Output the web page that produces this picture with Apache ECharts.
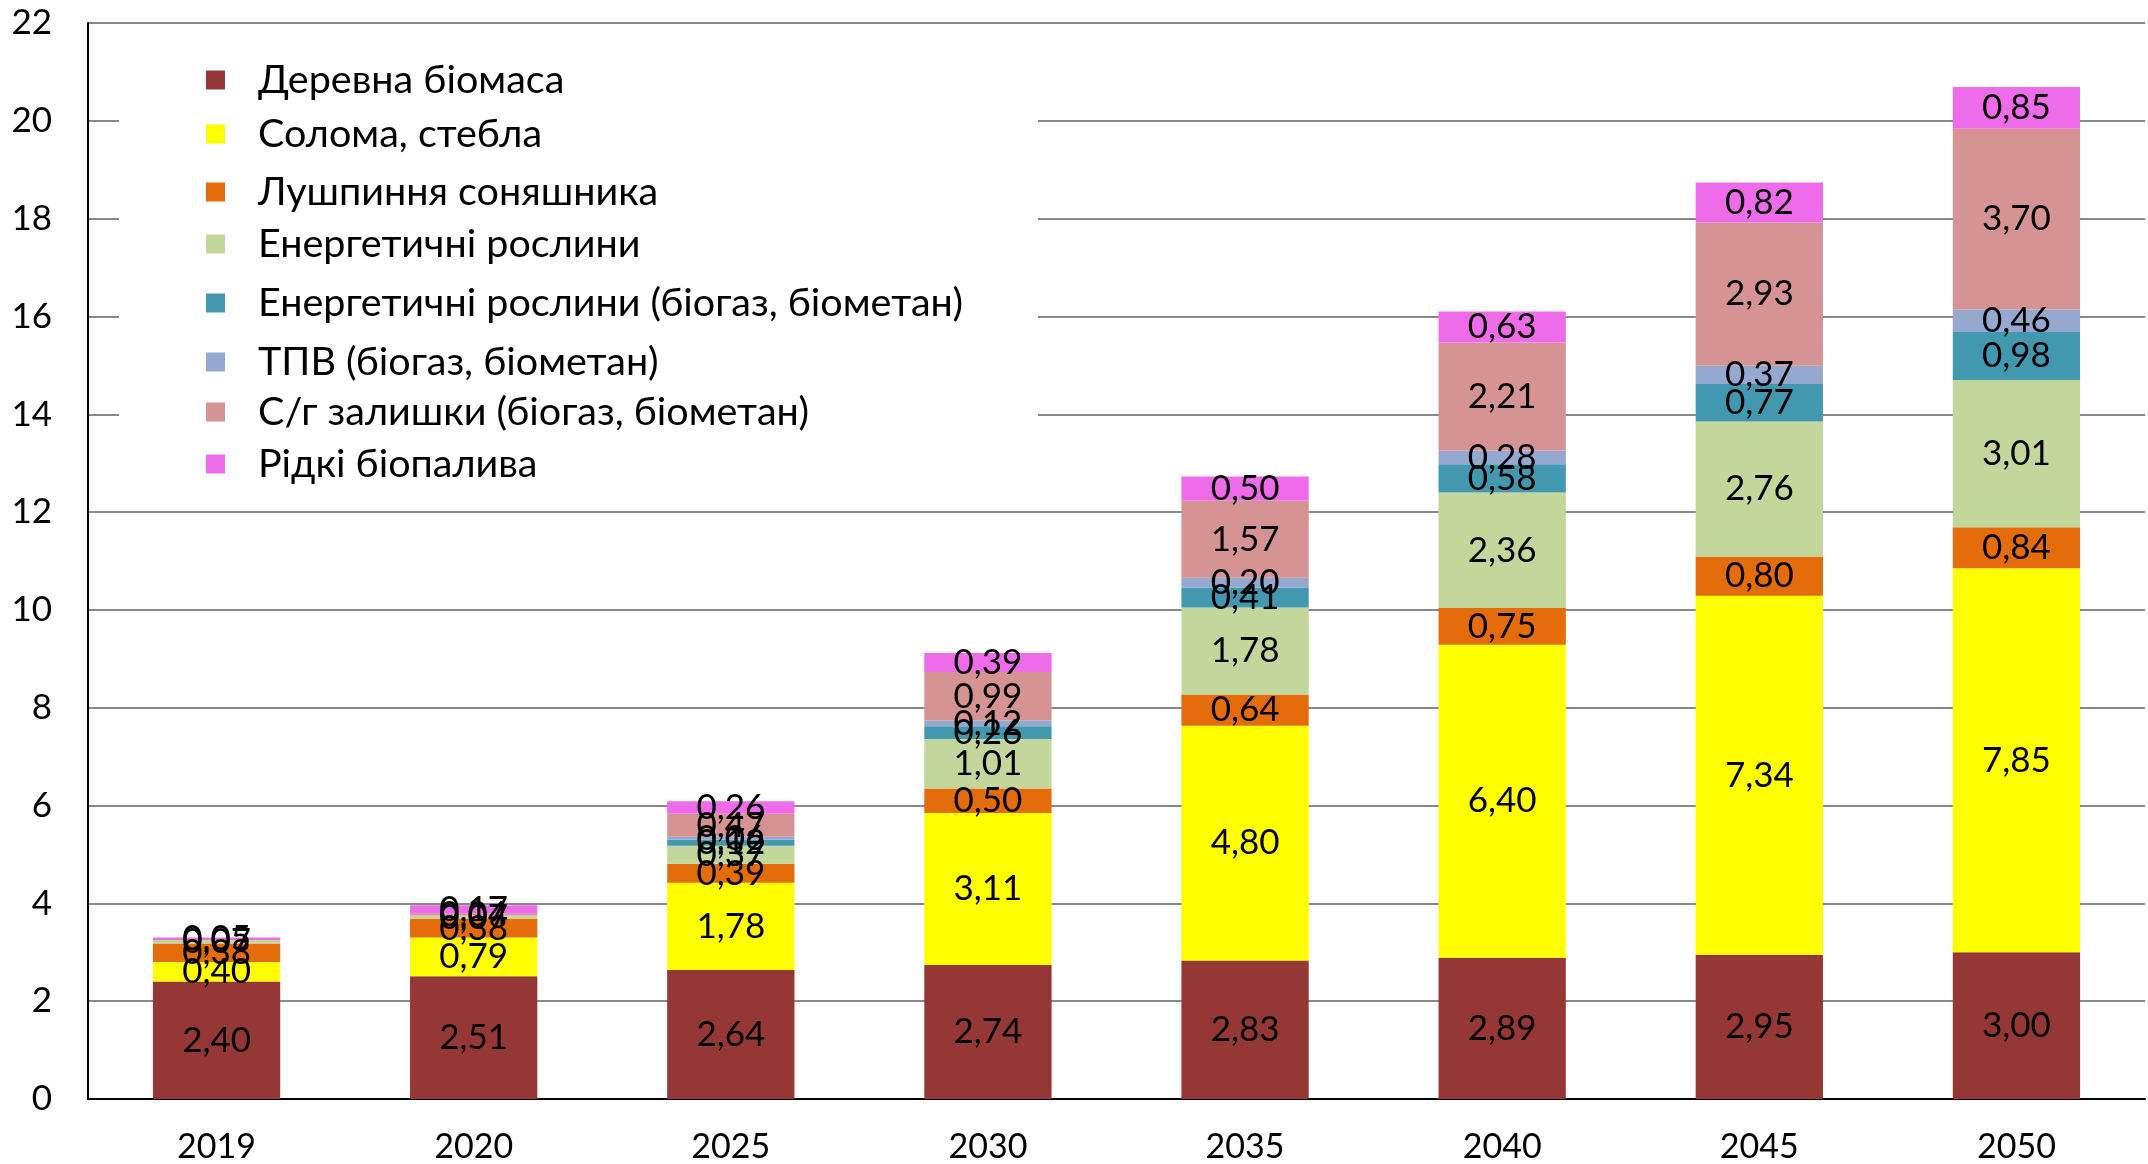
<!DOCTYPE html>
<html>
<head>
<meta charset="utf-8">
<script src="https://cdn.jsdelivr.net/npm/echarts@6/dist/echarts.min.js"></script>
<style>
  html, body { margin: 0; padding: 0; background: #fff; }
  #chart { width: 2148px; height: 1164px; }
</style>
</head>
<body>
<div id="chart"></div>
<script>
// Biomass energy potential by source, stacked per year
const years = ['2019', '2020', '2025', '2030', '2035', '2040', '2045', '2050'];
const seriesNames = [
  'Деревна біомаса',
  'Солома, стебла',
  'Лушпиння соняшника',
  'Енергетичні рослини',
  'Енергетичні рослини (біогаз, біометан)',
  'ТПВ (біогаз, біометан)',
  'С/г залишки (біогаз, біометан)',
  'Рідкі біопалива'
];
const woodBiomass       = [2.40, 2.51, 2.64, 2.74, 2.83, 2.89, 2.95, 3.00];
const straw             = [0.40, 0.79, 1.78, 3.11, 4.80, 6.40, 7.34, 7.85];
const sunflowerHusk     = [0.38, 0.38, 0.39, 0.50, 0.64, 0.75, 0.80, 0.84];
const energyCrops       = [0.07, 0.07, 0.37, 1.01, 1.78, 2.36, 2.76, 3.01];
const energyCropsBiogas = [0.00, 0.00, 0.12, 0.26, 0.41, 0.58, 0.77, 0.98];
const mswBiogas         = [0.00, 0.00, 0.06, 0.12, 0.20, 0.28, 0.37, 0.46];
const agriResidues      = [0.00, 0.04, 0.47, 0.99, 1.57, 2.21, 2.93, 3.70];
const liquidBiofuels    = [0.05, 0.17, 0.26, 0.39, 0.50, 0.63, 0.82, 0.85];
const yMin = 0, yMax = 22, yStep = 2;

const seriesValues = [woodBiomass, straw, sunflowerHusk, energyCrops,
  energyCropsBiogas, mswBiogas, agriResidues, liquidBiofuels];
const colors = ['#953735', '#FFFF00', '#E46C0A', '#C3D69B',
  '#4198AF', '#95A9D0', '#D59393', '#EE6CE9'];
// vertical centre of each legend row
const legendRows = [78, 132, 190, 242, 301, 360, 410, 462];

const FONT = 'Lato, "Noto Sans", sans-serif';

const chart = echarts.init(document.getElementById('chart'), null, { renderer: 'canvas' });

const fmt = v => v === 0 ? '' : v.toFixed(2).replace('.', ',');

chart.setOption({
  animation: false,
  backgroundColor: '#fff',
  textStyle: { fontFamily: FONT },
  color: colors,
  grid: { left: 88, right: 3, top: 23, bottom: 62, containLabel: false },
  graphic: [{
    type: 'rect',
    z: 1,
    shape: { x: 119, y: 40, width: 919, height: 460 },
    style: { fill: '#fff' }
  }],
  legend: seriesNames.map((name, i) => ({
    data: [name],
    left: 201,
    top: legendRows[i] - 23,
    itemWidth: 19,
    itemHeight: 19,
    icon: 'rect',
    selectedMode: false,
    textStyle: { fontFamily: FONT, fontSize: 39.5, color: '#000', padding: [0, 0, 0, 28] }
  })),
  xAxis: {
    type: 'category',
    data: years,
    axisLine: { show: true, lineStyle: { color: '#000', width: 2 } },
    axisTick: { show: false },
    axisLabel: { color: '#000', fontSize: 34, fontFamily: FONT, margin: 31 }
  },
  yAxis: {
    type: 'value',
    min: yMin, max: yMax, interval: yStep,
    axisLine: { show: true, lineStyle: { color: '#000', width: 2 } },
    axisTick: { show: false },
    axisLabel: { color: '#000', fontSize: 35, fontFamily: FONT, margin: 36 },
    splitLine: { show: true, lineStyle: { color: '#898989', width: 2 } }
  },
  series: seriesNames.map((name, i) => ({
    name,
    type: 'bar',
    stack: 'total',
    barWidth: '49.5%',
    data: seriesValues[i],
    itemStyle: { color: colors[i] },
    label: {
      show: true,
      position: 'inside',
      color: '#000',
      fontSize: 35,
      fontFamily: FONT,
      formatter: p => fmt(p.value)
    }
  }))
});
</script>
</body>
</html>
